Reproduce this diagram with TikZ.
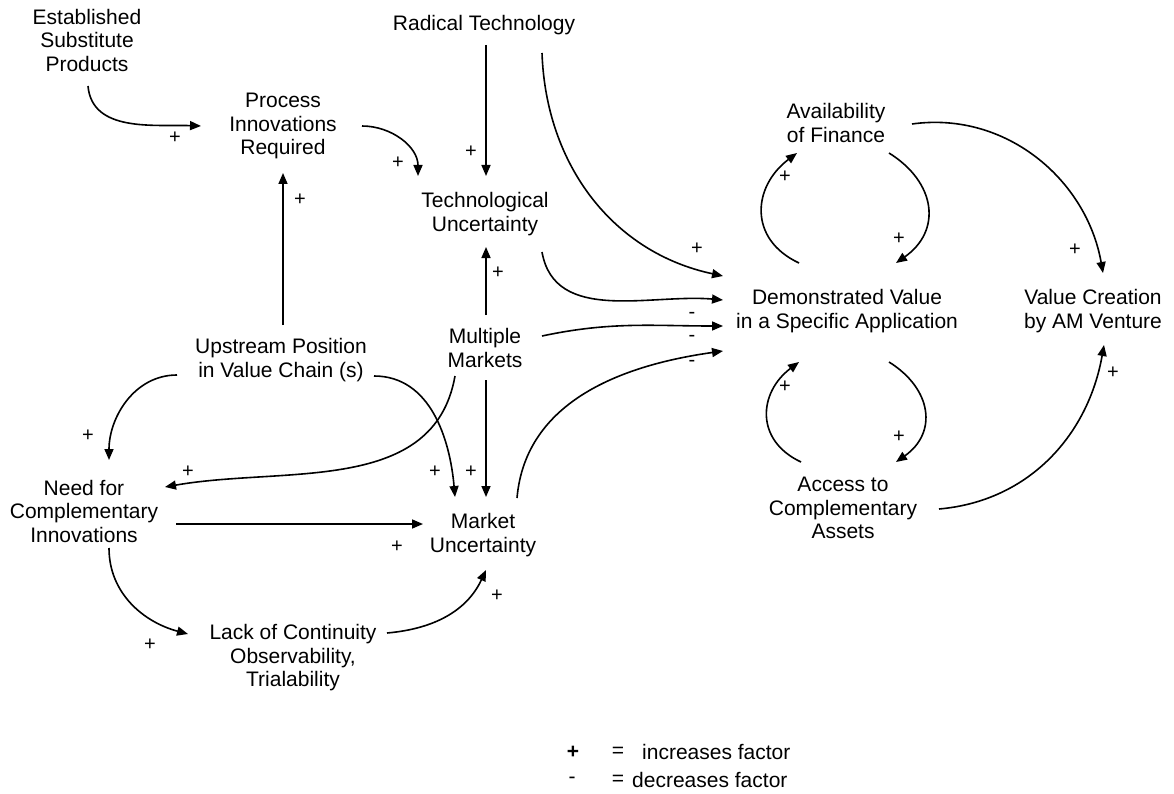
\documentclass[tikz,border=0pt]{standalone}
\usepackage{fontspec}
\setmainfont{Liberation Sans}
\usetikzlibrary{calc, arrows.meta}

\tikzset{
  factor/.style={align=center, inner sep=2pt, font=\fontsize{21}{23.5}\selectfont},
  link/.style={-{Triangle[length=11pt,width=9pt]}, line width=1.6pt},
  sign/.style={inner sep=0pt, font=\fontsize{20}{20}\selectfont},
}

\begin{document}
\begin{tikzpicture}[x=1pt, y=1pt]
  \useasboundingbox (0,0) rectangle (1174,-794);

  % 要因
  \node[factor] (est)   at (87,-40)   {Established\\Substitute\\Products};
  \node[factor] (rad)   at (484,-25)  {Radical Technology};
  \node[factor] (proc)  at (283,-126) {Process\\Innovations\\Required};
  \node[factor] (tech)  at (485,-214) {Technological\\Uncertainty};
  \node[factor] (fin)   at (836,-123) {Availability\\of Finance};
  \node[factor] (demo)  at (847,-311) {Demonstrated Value\\in a Specific Application};
  \node[factor] (value) at (1093,-311) {Value Creation\\by AM Venture};
  \node[factor] (up)    at (281,-360) {Upstream Position\\in Value Chain (s)};
  \node[factor] (mult)  at (485,-348) {Multiple\\Markets};
  \node[factor] (need)  at (84,-511)  {Need for\\Complementary\\Innovations};
  \node[factor] (mkt)   at (483,-535) {Market\\Uncertainty};
  \node[factor] (acc)   at (843,-508) {Access to\\Complementary\\Assets};
  \node[factor] (lack)  at (293,-658) {Lack of Continuity\\Observability,\\Trialability};

  % 左上
  \draw[link] ($(est)+(1,-46)$) to[out=-85,in=178]
    node[sign, at end, shift={(-26,-12)}] {+} ($(proc)+(-82,0)$);
  \draw[link] ($(proc)+(79,0)$) to[out=0,in=90]
    node[sign, at end, shift={(-20,13)}] {+} ($(tech)+(-67,38)$);
  \draw[link] ($(rad)+(2,-20)$) --
    node[sign, at end, shift={(-15,24)}] {+} ($(tech)+(1,38)$);
  \draw[link] ($(up)+(2,35)$) --
    node[sign, at end, shift={(17,-27)}] {+} ($(proc)+(0,-47)$);
  \draw[link] ($(mult)+(1,33)$) --
    node[sign, at end, shift={(12,-26)}] {+} ($(tech)+(1,-33)$);

  % Demonstrated Value へ
  \draw[link] ($(rad)+(58,-28)$) to[out=-88,in=168]
    node[sign, at end, shift={(-26,27)}] {+} ($(demo)+(-124,35)$);
  \draw[link] ($(tech)+(57,-38)$) to[out=-80,in=175]
    node[sign, at end, shift={(-31,-15)}] {-} ($(demo)+(-124,11)$);
  \draw[link] ($(mult)+(57,12)$) to[out=12,in=180]
    node[sign, at end, shift={(-31,-12)}] {-} ($(demo)+(-124,-15)$);
  \draw[link] ($(mkt)+(34,37)$) to[out=85,in=188]
    node[sign, at end, shift={(-31,-12)}] {-} ($(demo)+(-124,-40)$);

  % 中央
  \draw[link] ($(up)+(-104,-15)$) to[out=180,in=90]
    node[sign, at end, shift={(-21,24)}] {+} ($(need)+(25,51)$);
  \draw[link] ($(up)+(93,-16)$) to[out=0,in=95]
    node[sign, at end, shift={(-20,25)}] {+} ($(mkt)+(-28,38)$);
  \draw[link] ($(mult)+(-30,-28)$) to[out=-100,in=10]
    node[sign, at end, shift={(23,15)}] {+} ($(need)+(81,24)$);
  \draw[link] ($(mult)+(1,-32)$) --
    node[sign, at end, shift={(-15,25)}] {+} ($(mkt)+(3,38)$);
  \draw[link] ($(need)+(92,-13)$) --
    node[sign, at end, shift={(-26,-23)}] {+} ($(mkt)+(-60,11)$);
  \draw[link] ($(need)+(25,-37)$) to[out=-90,in=165]
    node[sign, at end, shift={(-38,-11)}] {+} ($(lack)+(-105,24)$);
  \draw[link] ($(lack)+(94,25)$) to[out=5,in=-115]
    node[sign, at end, shift={(11,-26)}] {+} ($(mkt)+(3,-35)$);

  % ループ
  \draw[link] ($(demo)+(-48,48)$) to[out=155,in=-143,looseness=1.3]
    node[sign, at end, shift={(-12,-24)}] {+} ($(fin)+(-39,-30)$);
  \draw[link] ($(fin)+(53,-30)$) to[out=-32,in=35,looseness=1.3]
    node[sign, at end, shift={(3,24)}] {+} ($(demo)+(49,48)$);
  \draw[link] ($(acc)+(-42,46)$) to[out=155,in=-143,looseness=1.3]
    node[sign, at end, shift={(-14,-25)}] {+} ($(demo)+(-48,-51)$);
  \draw[link] ($(demo)+(42,-51)$) to[out=-32,in=35,looseness=1.3]
    node[sign, at end, shift={(3,25)}] {+} ($(acc)+(53,46)$);

  % Value Creation へ
  \draw[link] ($(fin)+(76,-1)$) to[out=8,in=100]
    node[sign, at end, shift={(-28,23)}] {+} ($(value)+(10,38)$);
  \draw[link] ($(acc)+(96,-1)$) to[out=5,in=-100]
    node[sign, at end, shift={(9,-28)}] {+} ($(value)+(11,-34)$);

  % 凡例
  \node[factor] (plus)  at (573,-752) {\textbf{+}};
  \node[factor] (eq1)   at (618,-752) {=};
  \node[factor, anchor=west] (inc) at (640,-752) {increases factor};
  \node[factor] (minus) at (572,-780) {-};
  \node[factor] (eq2)   at (618,-780) {=};
  \node[factor, anchor=west] (dec) at (630,-780) {decreases factor};
\end{tikzpicture}
\end{document}
